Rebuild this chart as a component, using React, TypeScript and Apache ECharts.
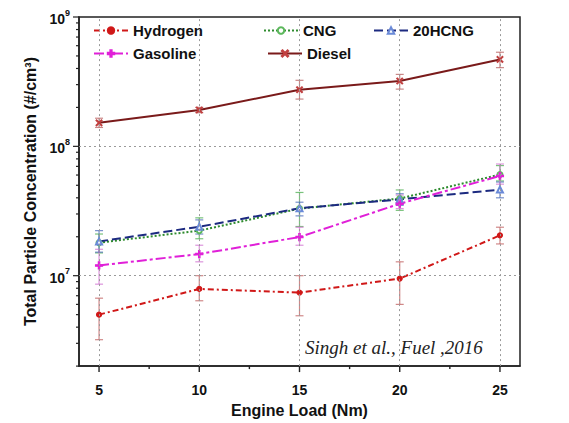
import React, { useEffect, useRef } from "react";
import * as echarts from "echarts";

// Engine load (Nm)
const loads = [5, 10, 15, 20, 25];

// Total particle concentration (#/cm3) per fuel
const hydrogen = [5.0e6, 7.9e6, 7.4e6, 9.5e6, 2.05e7];
const cng = [1.8e7, 2.23e7, 3.3e7, 3.95e7, 6.05e7];
const hcng20 = [1.84e7, 2.39e7, 3.32e7, 3.89e7, 4.63e7];
const gasoline = [1.2e7, 1.47e7, 1.99e7, 3.6e7, 5.9e7];
const diesel = [1.52e8, 1.91e8, 2.74e8, 3.2e8, 4.7e8];

// Error bar bounds [low, high]
const hydrogenErr = [[3.2e6, 6.7e6], [6.4e6, 1.0e7], [4.9e6, 1.0e7], [6.0e6, 1.28e7], [1.76e7, 2.37e7]];
const cngErr = [[1.5e7, 2.1e7], [1.93e7, 2.8e7], [2.4e7, 4.4e7], [3.2e7, 4.6e7], [5.4e7, 7.1e7]];
const hcng20Err = [[1.52e7, 2.23e7], [2.1e7, 2.7e7], [2.9e7, 3.7e7], [3.5e7, 4.3e7], [4.0e7, 5.3e7]];
const gasolineErr = [[8.6e6, 1.6e7], [1.28e7, 1.72e7], [1.72e7, 2.37e7], [3.3e7, 4.2e7], [5.1e7, 7.3e7]];
const dieselErr = [[1.4e8, 1.65e8], [1.82e8, 2.0e8], [2.32e8, 3.24e8], [2.77e8, 3.6e8], [4.06e8, 5.34e8]];

const xLabels = [5, 10, 15, 20, 25];
const xMinor = [7.5, 12.5, 17.5, 22.5];
const yMajor = [1e7, 1e8, 1e9];
const yMinor = [2e6, 3e6, 4e6, 5e6, 6e6, 7e6, 8e6, 9e6, 2e7, 3e7, 4e7, 5e7, 6e7, 7e7, 8e7, 9e7, 2e8, 3e8, 4e8, 5e8, 6e8, 7e8, 8e8, 9e8];

const X_MIN = 4;
const X_MAX = 26;
const Y_MIN = 2e6;
const Y_MAX = 1e9;

const FONT = "Liberation Sans, Arial, sans-serif";

const plusSymbol = "path://M4,0h2v4h4v2h-4v4h-2v-4h-4v-2h4z";
const starSymbol = "path://M1,0L5,4L9,0L10,1L6,5L10,9L9,10L5,6L1,10L0,9L4,5L0,1Z";

function errorSeries(err: number[][], color: string) {
  return {
    type: "custom",
    silent: true,
    z: 1,
    data: loads.map((x, i) => [x, err[i][0], err[i][1]]),
    renderItem: (params: any, api: any) => {
      const lo = api.coord([api.value(0), api.value(1)]);
      const hi = api.coord([api.value(0), api.value(2)]);
      const w = 4;
      const style = { stroke: color, lineWidth: 1.2, opacity: 0.75 };
      return {
        type: "group",
        children: [
          { type: "line", shape: { x1: lo[0], y1: lo[1], x2: hi[0], y2: hi[1] }, style },
          { type: "line", shape: { x1: lo[0] - w, y1: lo[1], x2: lo[0] + w, y2: lo[1] }, style },
          { type: "line", shape: { x1: hi[0] - w, y1: hi[1], x2: hi[0] + w, y2: hi[1] }, style },
        ],
      };
    },
  };
}

// Outward ticks on the left (log) axis
function yTickSeries(values: number[], len: number) {
  return {
    type: "custom",
    silent: true,
    clip: false,
    z: 5,
    data: values.map((v) => [X_MIN, v]),
    renderItem: (params: any, api: any) => {
      const p = api.coord([api.value(0), api.value(1)]);
      return {
        type: "line",
        shape: { x1: p[0] - len, y1: p[1], x2: p[0], y2: p[1] },
        style: { stroke: "#222", lineWidth: 1.2 },
      };
    },
  };
}

// Outward ticks below the bottom axis
function xTickSeries(values: number[], len: number) {
  return {
    type: "custom",
    silent: true,
    clip: false,
    z: 5,
    data: values.map((v) => [v, Y_MIN]),
    renderItem: (params: any, api: any) => {
      const p = api.coord([api.value(0), api.value(1)]);
      return {
        type: "line",
        shape: { x1: p[0], y1: p[1], x2: p[0], y2: p[1] + len },
        style: { stroke: "#222", lineWidth: 1.4 },
      };
    },
  };
}

function lineSeries(name: string, values: number[], color: string, type: any, symbol: string, symbolSize: number, symbolColor?: string) {
  return {
    name,
    type: "line",
    data: loads.map((x, i) => [x, values[i]]),
    symbol,
    symbolSize,
    showSymbol: true,
    z: 3,
    lineStyle: { color, width: 2, type },
    itemStyle: { color: symbolColor || color, borderColor: symbolColor || color, borderWidth: 1.2 },
  };
}

function legendFor(name: string, left: number, top: number) {
  return {
    data: [name],
    left,
    top,
    itemWidth: 34,
    itemHeight: 8,
    itemGap: 0,
    textStyle: { fontFamily: FONT, fontSize: 15, fontWeight: "bold", color: "#111" },
    selectedMode: false,
  };
}

export default function App() {
  const ref = useRef<HTMLDivElement>(null);

  useEffect(() => {
    if (!ref.current) return;
    const chart = echarts.init(ref.current, undefined, { renderer: "svg" });
    const gridMarks = {
      silent: true,
      symbol: "none",
      label: { show: false },
      lineStyle: { color: "#9a9a9a", width: 1, type: [2, 3] },
      data: [
        ...xLabels.map((v) => ({ xAxis: v })),
        { yAxis: 1e7 },
        { yAxis: 1e8 },
      ],
    };
    const dieselSeries: any = lineSeries("Diesel", diesel, "#7a1a1a", "solid", starSymbol, 6, "#c04040");
    dieselSeries.markLine = gridMarks;

    chart.setOption({
      animation: false,
      backgroundColor: "#ffffff",
      grid: {
        left: 79,
        right: 49,
        top: 17,
        bottom: 53,
        show: true,
        borderColor: "#222",
        borderWidth: 1.5,
      },
      legend: [
        legendFor("Hydrogen", 88, 18),
        legendFor("CNG", 258, 18),
        legendFor("20HCNG", 368, 18),
        legendFor("Gasoline", 88, 41),
        legendFor("Diesel", 262, 41),
      ],
      xAxis: {
        type: "value",
        min: X_MIN,
        max: X_MAX,
        name: "Engine Load (Nm)",
        nameLocation: "middle",
        nameGap: 31,
        nameTextStyle: { fontFamily: FONT, fontSize: 16, fontWeight: "bold", color: "#111" },
        splitLine: { show: false },
        axisLine: { show: true, lineStyle: { color: "#222", width: 1.5 } },
        axisTick: { show: false },
        axisLabel: {
          customValues: xLabels,
          margin: 17,
          fontFamily: FONT,
          fontSize: 14,
          fontWeight: "bold",
          color: "#111",
        },
      },
      yAxis: {
        type: "log",
        logBase: 10,
        min: Y_MIN,
        max: Y_MAX,
        name: "Total Particle Concentration (#/cm\u00B3)",
        nameLocation: "middle",
        nameGap: 41,
        nameTextStyle: { fontFamily: FONT, fontSize: 16, fontWeight: "bold", color: "#111" },
        splitLine: { show: false },
        axisLine: { show: true, lineStyle: { color: "#222", width: 1.5 } },
        axisTick: { show: false },
        axisLabel: {
          margin: 9,
          showMinLabel: false,
          formatter: (v: number) => {
            const e = Math.log10(v);
            const r = Math.round(e);
            if (Math.abs(e - r) > 0.01) return "";
            return `{b|10}{s|${r}}`;
          },
          rich: {
            b: { fontFamily: FONT, fontSize: 14, fontWeight: "bold", color: "#111", lineHeight: 18, verticalAlign: "bottom" },
            s: { fontFamily: FONT, fontSize: 9, fontWeight: "bold", color: "#111", lineHeight: 18, verticalAlign: "top" },
          },
        },
      },
      series: [
        yTickSeries(yMajor, 6),
        yTickSeries(yMinor, 3),
        xTickSeries(xLabels, 6),
        xTickSeries(xMinor, 3),
        errorSeries(dieselErr, "#b86060"),
        errorSeries(cngErr, "#4caf50"),
        errorSeries(hcng20Err, "#4a6ab8"),
        errorSeries(gasolineErr, "#d070d0"),
        errorSeries(hydrogenErr, "#c06060"),
        lineSeries("Hydrogen", hydrogen, "#d01818", [6, 3, 2, 3], "circle", 5),
        lineSeries("CNG", cng, "#2e8b2e", [2, 2], "emptyCircle", 5, "#5cb85c"),
        lineSeries("20HCNG", hcng20, "#1c2a80", [9, 4], "emptyTriangle", 6, "#6a8ad8"),
        lineSeries("Gasoline", gasoline, "#e020d8", [10, 3, 3, 3], plusSymbol, 7),
        dieselSeries,
      ],
      graphic: [
        {
          type: "text",
          left: 305,
          top: 338,
          style: {
            text: "Singh et al., Fuel ,2016",
            font: "italic 19px 'Liberation Serif', 'Times New Roman', serif",
            fill: "#222",
          },
        },
      ],
    });
    return () => chart.dispose();
  }, []);

  return <div ref={ref} style={{ width: 569, height: 423, position: "absolute", left: 0, top: 0 }} />;
}
